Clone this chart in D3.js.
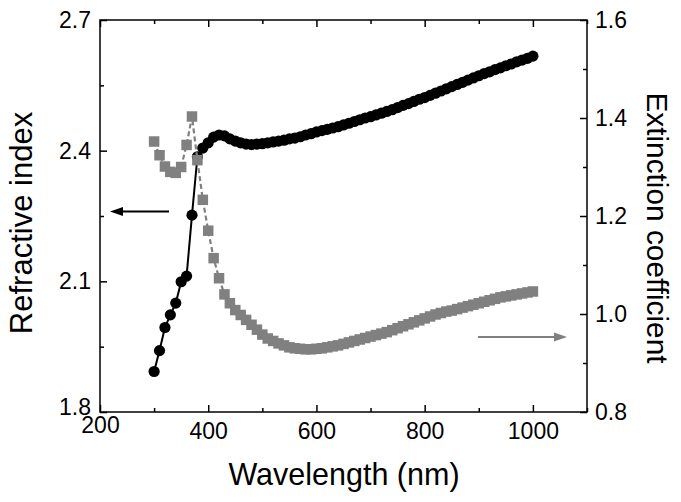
<!DOCTYPE html>
<html><head><meta charset="utf-8">
<script src="https://cdn.jsdelivr.net/npm/d3@7"></script>
<style>html,body{margin:0;padding:0;background:#fff;} svg{display:block;}</style>
</head><body>
<svg id="c" width="681" height="502"></svg>
<script>
const wavelength = [300,310,320,330,340,350,360,370,380,390,400,410,420,430,440,450,460,470,480,490,500,510,520,530,540,550,560,570,580,590,600,610,620,630,640,650,660,670,680,690,700,710,720,730,740,750,760,770,780,790,800,810,820,830,840,850,860,870,880,890,900,910,920,930,940,950,960,970,980,990,1000];
const refractiveIndex = [1.893,1.941,1.994,2.023,2.050,2.099,2.112,2.252,2.386,2.406,2.418,2.431,2.436,2.434,2.427,2.422,2.418,2.415,2.414,2.415,2.416,2.418,2.420,2.422,2.424,2.427,2.429,2.432,2.436,2.439,2.443,2.446,2.449,2.452,2.455,2.459,2.463,2.467,2.471,2.475,2.478,2.482,2.486,2.490,2.494,2.499,2.504,2.508,2.513,2.518,2.522,2.527,2.532,2.537,2.542,2.547,2.552,2.557,2.562,2.567,2.572,2.577,2.581,2.586,2.590,2.595,2.599,2.604,2.608,2.612,2.617];
const extinction = [1.352,1.324,1.301,1.290,1.288,1.300,1.345,1.403,1.314,1.233,1.170,1.114,1.073,1.040,1.022,1.008,0.998,0.988,0.978,0.968,0.958,0.950,0.945,0.940,0.936,0.932,0.930,0.929,0.928,0.928,0.929,0.930,0.932,0.934,0.936,0.939,0.942,0.945,0.948,0.951,0.954,0.957,0.960,0.963,0.967,0.971,0.975,0.979,0.983,0.987,0.991,0.995,0.999,1.002,1.005,1.007,1.010,1.013,1.016,1.019,1.022,1.025,1.028,1.031,1.034,1.036,1.038,1.040,1.042,1.044,1.046];
const xMajor = [200,400,600,800,1000];
const xMinor = [300,500,700,900,1100];
const yLeftMajor = [1.8,2.1,2.4,2.7];
const yLeftMinor = [1.95,2.25,2.55];
const yRightMajor = [0.8,1.0,1.2,1.4,1.6];
const yRightMinor = [0.9,1.1,1.3,1.5];

const L=100,R=587,T=20,B=412;
const FONT = "'Liberation Sans', Arial, sans-serif";
const svg = d3.select("#c");
const x = d3.scaleLinear().domain([200,1100]).range([L,R]);
const yL = d3.scaleLinear().domain([1.8,2.7]).range([B,T]);
const yR = d3.scaleLinear().domain([0.8,1.6]).range([B,T]);

function styleAxis(g){
  g.select(".domain").remove();
  g.selectAll("line").attr("stroke","#000").attr("stroke-width",1.5);
  g.selectAll("text").attr("font-family",FONT).attr("font-size",23).attr("fill","#000");
}
// bottom
const gb = svg.append("g").attr("transform",`translate(0,${B})`);
gb.call(d3.axisBottom(x).tickValues(xMajor).tickSizeInner(-7).tickSizeOuter(0).tickPadding(11).tickFormat(d3.format("d"))).call(styleAxis);
gb.selectAll(".tick text").filter(d=>d===200).attr("y",5);
gb.append("g").call(d3.axisBottom(x).tickValues(xMinor).tickSizeInner(-4).tickSizeOuter(0).tickFormat("")).call(styleAxis);
// top
const gt = svg.append("g").attr("transform",`translate(0,${T})`);
gt.call(d3.axisTop(x).tickValues(xMajor).tickSizeInner(-7).tickSizeOuter(0).tickFormat("")).call(styleAxis);
gt.append("g").call(d3.axisTop(x).tickValues(xMinor).tickSizeInner(-4).tickSizeOuter(0).tickFormat("")).call(styleAxis);
// left
const gl = svg.append("g").attr("transform",`translate(${L},0)`);
gl.call(d3.axisLeft(yL).tickValues(yLeftMajor).tickSizeInner(-7).tickSizeOuter(0).tickPadding(9).tickFormat(d3.format(".1f"))).call(styleAxis);
gl.selectAll(".tick text").filter(d=>d===1.8).attr("dy","0.12em");
gl.append("g").call(d3.axisLeft(yL).tickValues(yLeftMinor).tickSizeInner(-4).tickSizeOuter(0).tickFormat("")).call(styleAxis);
// right
const gr = svg.append("g").attr("transform",`translate(${R},0)`);
gr.call(d3.axisRight(yR).tickValues(yRightMajor).tickSizeInner(-7).tickSizeOuter(0).tickPadding(8).tickFormat(d3.format(".1f"))).call(styleAxis);
gr.append("g").call(d3.axisRight(yR).tickValues(yRightMinor).tickSizeInner(-4).tickSizeOuter(0).tickFormat("")).call(styleAxis);
// frame
svg.append("rect").attr("x",L).attr("y",T).attr("width",R-L).attr("height",B-T)
  .attr("fill","none").attr("stroke","#000").attr("stroke-width",1.5);

const nData = wavelength.map((w,i)=>({w, v:refractiveIndex[i]}));
const kData = wavelength.map((w,i)=>({w, v:extinction[i]}));

// black series
svg.append("path").datum(nData).attr("fill","none").attr("stroke","#000").attr("stroke-width",2)
  .attr("d", d3.line().x(d=>x(d.w)).y(d=>yL(d.v)));
svg.append("g").selectAll("circle").data(nData).join("circle")
  .attr("cx",d=>x(d.w)).attr("cy",d=>yL(d.v)).attr("r",5.6).attr("fill","#000");

// gray series
const gray = "#808080";
svg.append("path").datum(kData).attr("fill","none").attr("stroke",gray).attr("stroke-width",2.2)
  .attr("stroke-dasharray","5,3")
  .attr("d", d3.line().x(d=>x(d.w)).y(d=>yR(d.v)));
const s = 10.5;
svg.append("g").selectAll("rect").data(kData).join("rect")
  .attr("x",d=>x(d.w)-s/2).attr("y",d=>yR(d.v)-s/2).attr("width",s).attr("height",s).attr("fill",gray);

// arrows
function arrow(x1,x2,y,color){
  const dir = Math.sign(x2-x1);
  svg.append("line").attr("x1",x1).attr("x2",x2-dir*10).attr("y1",y).attr("y2",y)
    .attr("stroke",color).attr("stroke-width",2.2);
  svg.append("path").attr("d",`M${x2},${y} L${x2-dir*13},${y-4.5} L${x2-dir*13},${y+4.5} Z`).attr("fill",color);
}
arrow(169,110,211.5,"#000");
arrow(478,567,337,gray);

// titles
svg.append("text").attr("x",344).attr("y",485).attr("text-anchor","middle")
  .attr("font-family",FONT).attr("font-size",30.5).text("Wavelength (nm)");
svg.append("text").attr("transform","translate(32,223) rotate(-90)").attr("text-anchor","middle")
  .attr("font-family",FONT).attr("font-size",31).text("Refractive index");
svg.append("text").attr("transform","translate(647,228) rotate(90)").attr("text-anchor","middle")
  .attr("font-family",FONT).attr("font-size",29.8).text("Extinction coefficient");
</script>
</body></html>
